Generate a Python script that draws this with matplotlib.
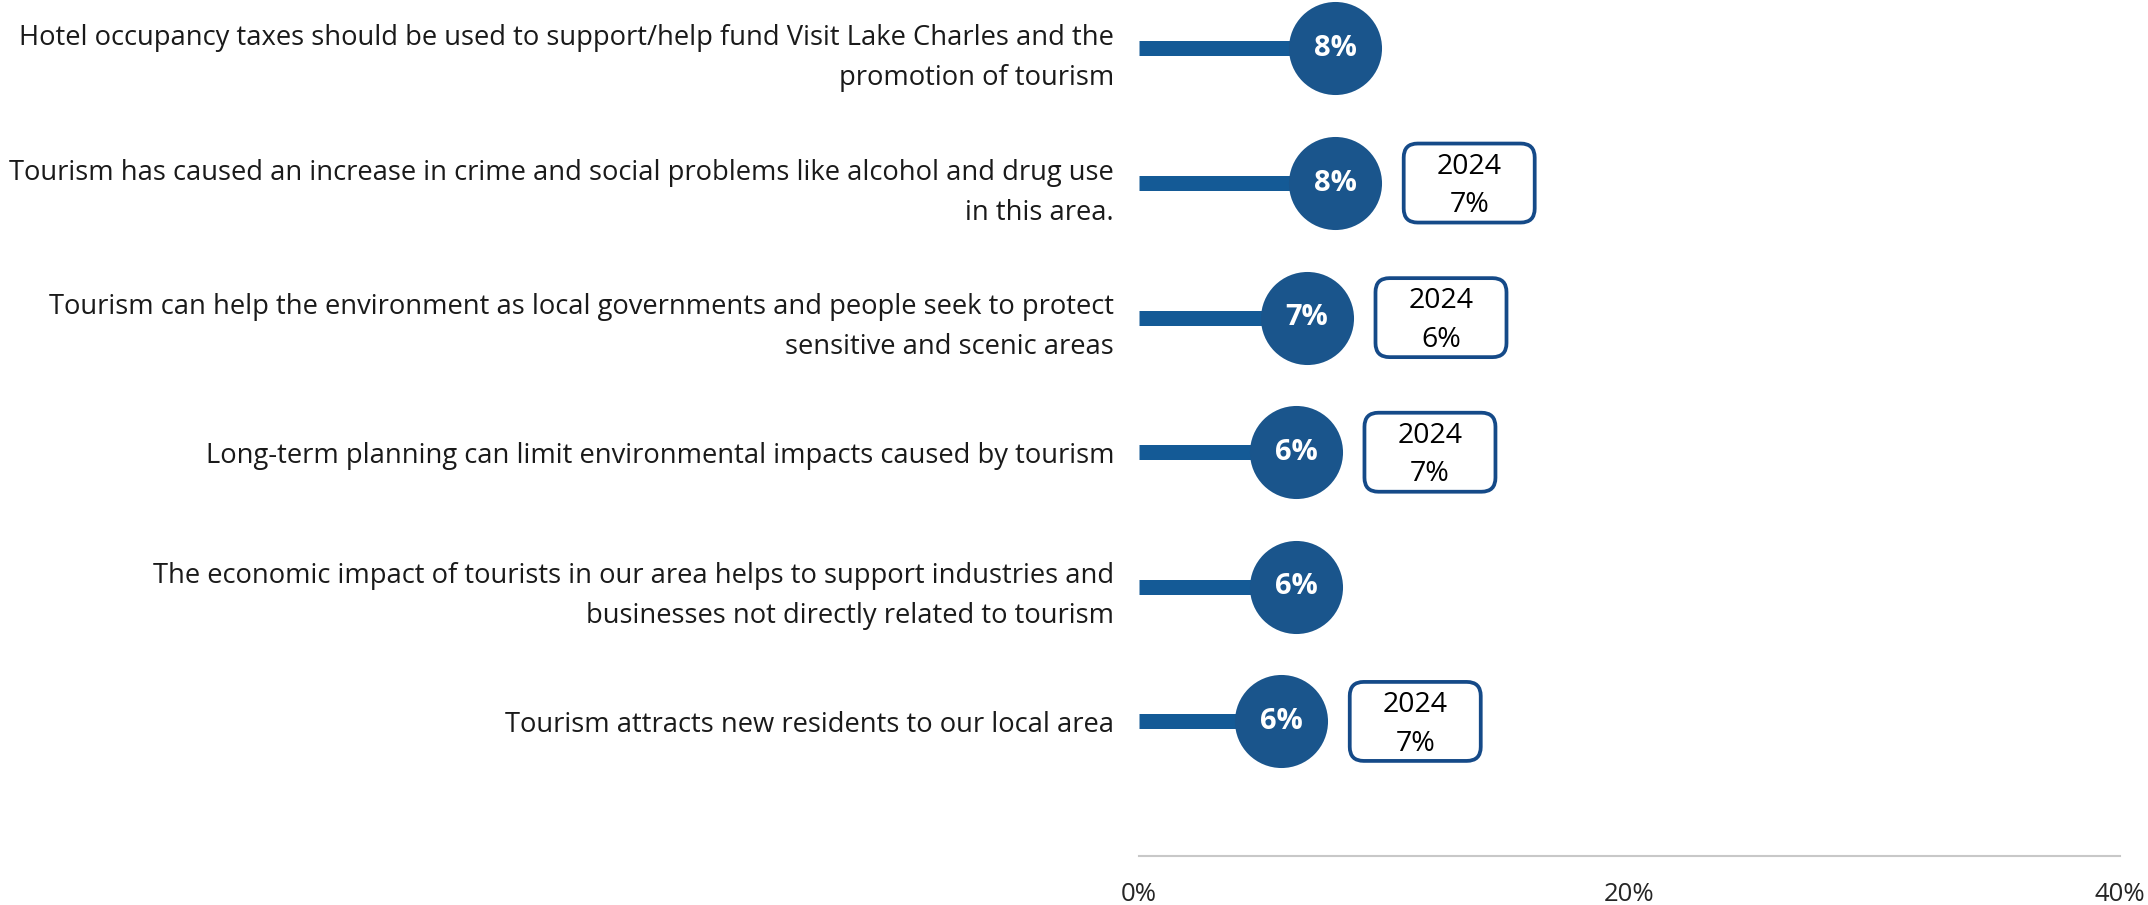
import numpy as np
import matplotlib
matplotlib.use('Agg')
import matplotlib.pyplot as plt
from matplotlib.patches import FancyBboxPatch

#statements, top to bottom
labels = [
    "Hotel occupancy taxes should be used to support/help fund Visit Lake Charles and the\npromotion of tourism",
    "Tourism has caused an increase in crime and social problems like alcohol and drug use\nin this area.",
    "Tourism can help the environment as local governments and people seek to protect\nsensitive and scenic areas",
    "Long-term planning can limit environmental impacts caused by tourism",
    "The economic impact of tourists in our area helps to support industries and\nbusinesses not directly related to tourism",
    "Tourism attracts new residents to our local area",
]
#current share and the shown label
values = [8.0, 8.0, 6.85, 6.4, 6.4, 5.8]
value_labels = ["8%", "8%", "7%", "6%", "6%", "6%"]
#2024 comparison, None where no box is shown
prior_year = "2024"
prior_labels = [None, "7%", "6%", "7%", None, "7%"]

xticks = [0, 20, 40]
xticklabels = ["0%", "20%", "40%"]

stem_color = '#145A96'
dot_color = '#1A558C'
box_color = '#154A88'
font = 'Open Sans'

W, H, dpi = 2148, 905, 100
fig = plt.figure(figsize=(W/dpi, H/dpi), dpi=dpi)
fig.patch.set_facecolor('white')

#axes placed so 0%..40% spans pixel 1139..2120, axis line at pixel 856
ax = fig.add_axes([1139/W, (H-856)/H, 981/W, 856/H])
ax.set_xlim(0, 40)
ax.set_ylim(6.0, -0.36)

ypos = np.arange(len(labels))

#stems and dots
ax.hlines(ypos, 0, values, color=stem_color, linewidth=10.8, zorder=2)
ax.scatter(values, ypos, s=67**2, color=dot_color, zorder=3, linewidths=0)
for v, y, t in zip(values, ypos, value_labels):
    ax.text(v, y, t, ha='center', va='center', color='white',
            fontsize=21, fontweight='bold', family=font, zorder=4)

#2024 boxes, offset to the right of the dot
px_x = 40/981.0     # data units per pixel, x
px_y = 6.36/856.0   # data units per pixel, y
bw, bh = 131*px_x, 79*px_y
for v, y, p in zip(values, ypos, prior_labels):
    if p is None:
        continue
    cx = v + 134*px_x
    box = FancyBboxPatch((cx - bw/2, y - bh/2), bw, bh,
                         boxstyle="round,pad=0,rounding_size=%f" % (14*px_x),
                         mutation_aspect=px_y/px_x,
                         facecolor='white', edgecolor=box_color, linewidth=2.7, zorder=3)
    ax.add_patch(box)
    ax.text(cx, y + 3*px_y, prior_year + "\n" + p, ha='center', va='center',
            fontsize=20.5, family=font, color='black', linespacing=1.5, zorder=4)

#y labels
ax.set_yticks(ypos)
ax.set_yticklabels(labels, fontsize=19.7, family=font, color='#1a1a1a', linespacing=1.57)
for t in ax.get_yticklabels():
    t.set_multialignment('right')
ax.tick_params(axis='y', length=0, pad=18)

#x axis
ax.set_xticks(xticks)
ax.set_xticklabels(xticklabels, fontsize=18.5, family=font, color='#262626')
ax.tick_params(axis='x', length=0, pad=19)

for s in ['top', 'right', 'left']:
    ax.spines[s].set_visible(False)
ax.spines['bottom'].set_color('#C8C8C8')
ax.spines['bottom'].set_linewidth(1.5)
ax.set_facecolor('none')

fig.savefig('out.png', dpi=dpi, facecolor='white')
